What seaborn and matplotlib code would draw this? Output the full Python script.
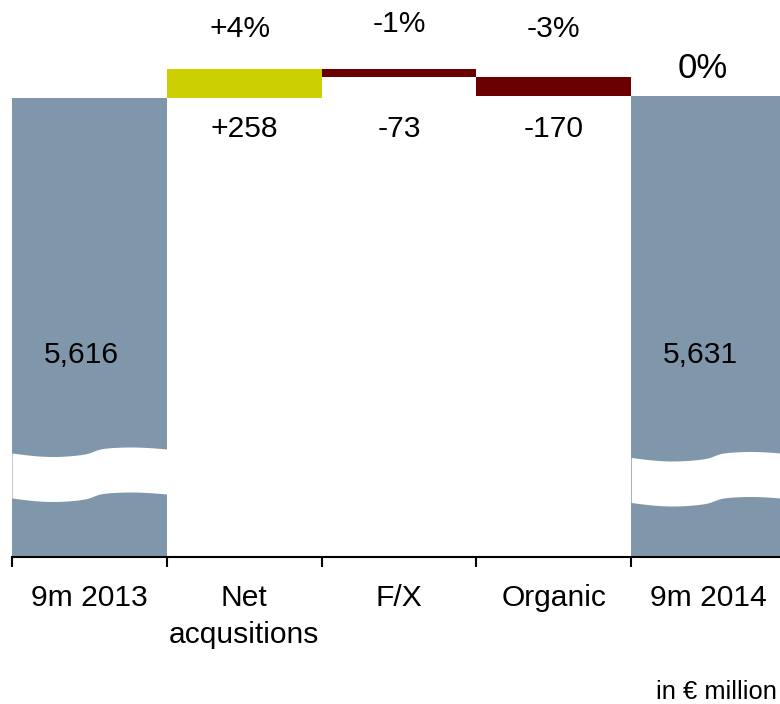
import numpy as np
import pandas as pd
import matplotlib
matplotlib.use("Agg")
import matplotlib.pyplot as plt
import matplotlib.transforms as mtransforms
import seaborn as sns

# data
categories = ['9m 2013', 'Net\nacqusitions', 'F/X', 'Organic', '9m 2014']
start_total = 5616
end_total = 5631
changes = [258, -73, -170]
pct_labels = ['+4%', '-1%', '-3%', '0%']
colors = ['#8097ab', '#cccf00', '#6b0000', '#6b0000', '#8097ab']

# waterfall geometry from the data
levels = np.concatenate([[start_total], start_total + np.cumsum(changes)])
tops = [start_total] + [max(a, b) for a, b in zip(levels[:-1], levels[1:])] + [end_total]
bottoms = [0] + [min(a, b) for a, b in zip(levels[:-1], levels[1:])] + [0]
df = pd.DataFrame({'category': categories, 'top': tops, 'bottom': bottoms})

sns.set_style('white')
plt.rcParams['font.family'] = ['Liberation Sans', 'DejaVu Sans']

W, H = 780, 704
fig = plt.figure(figsize=(W / 100, H / 100), dpi=100)
# last bar runs off the right edge of the picture
ax = fig.add_axes([12 / W, (H - 557) / H, 774 / W, 557 / H])

PX = 0.72  # points per pixel at dpi 100

sns.barplot(data=df, x='category', y='top', hue='category', palette=colors,
            saturation=1, width=1.0, linewidth=0, legend=False, ax=ax)
sns.barplot(data=df, x='category', y='bottom', color='white',
            saturation=1, width=1.0, linewidth=0, ax=ax)

ax.set_xlim(-0.5, 4.5)
ax.set_ylim(1490, 6494)
ax.set_xlabel('')
ax.set_ylabel('')
ax.set_yticks([])
for s in ['top', 'right', 'left']:
    ax.spines[s].set_visible(False)
ax.spines['bottom'].set_linewidth(1.5)
ax.spines['bottom'].set_color('black')

ax.set_xticks(range(len(categories)))
ax.set_xticklabels(categories, fontsize=21.6)
ax.set_xticks(np.arange(-0.5, 4.5, 1), minor=True)
ax.tick_params(axis='x', which='major', length=0, pad=27 * PX, colors='black')
ax.tick_params(axis='x', which='minor', length=10 * PX, width=1.5, direction='out',
               color='black', bottom=True)
for lab in ax.get_xticklabels():
    lab.set_linespacing(1.4)

# axis break bands on the total bars
trans = mtransforms.blended_transform_factory(ax.transData, ax.transAxes)
t = np.linspace(0, 1, 200)
for idx, shift, step_at in [(0, 0, 0.53), (4, 4.5, 0.54)]:
    left = 453 + 3.5 * np.sin(np.pi * np.clip(t, 0, step_at) / step_at)
    right = 449 - 2 * np.sin(np.pi * np.clip(t - step_at, 0, 1 - step_at) / (1 - step_at))
    w = 1 / (1 + np.exp(-(t - step_at) / 0.02))
    top_px = (1 - w) * left + w * right + shift
    bot_px = top_px + 45
    xs = idx - 0.5 + t
    ax.fill_between(xs, (557 - top_px) / 557, (557 - bot_px) / 557,
                    color='white', lw=0, transform=trans, zorder=3)

# percent labels above the bars
pct_offsets = [32, 37, 40, 18]
pct_dx = [-4, 0, 0, -6]
pct_sizes = [21.6, 21.6, 21.6, 25]
for i, (lab, off, dx, fs) in enumerate(zip(pct_labels, pct_offsets, pct_dx, pct_sizes), start=1):
    ax.annotate(lab, (i, tops[i]), xytext=(dx * PX, off * PX), textcoords='offset points',
                ha='center', va='baseline', fontsize=fs, color='black')

# change values below
for i, ch in enumerate(changes, start=1):
    ax.annotate(f'{ch:+d}', (i, start_total), xytext=(0, -39 * PX),
                textcoords='offset points', ha='center', va='baseline',
                fontsize=21.6, color='black')

# totals inside bars
for i, val in [(0, start_total), (4, end_total)]:
    ax.annotate(f'{val:,}', (i, 0.348), xycoords=trans, xytext=(-8 * PX, 0),
                textcoords='offset points', ha='center', va='baseline',
                fontsize=21.6, color='black', zorder=5)

fig.text(777 / W, 1 - 699 / H, 'in € million', ha='right', va='baseline',
         fontsize=18.4, color='black')

fig.savefig('out.png', dpi=100)
